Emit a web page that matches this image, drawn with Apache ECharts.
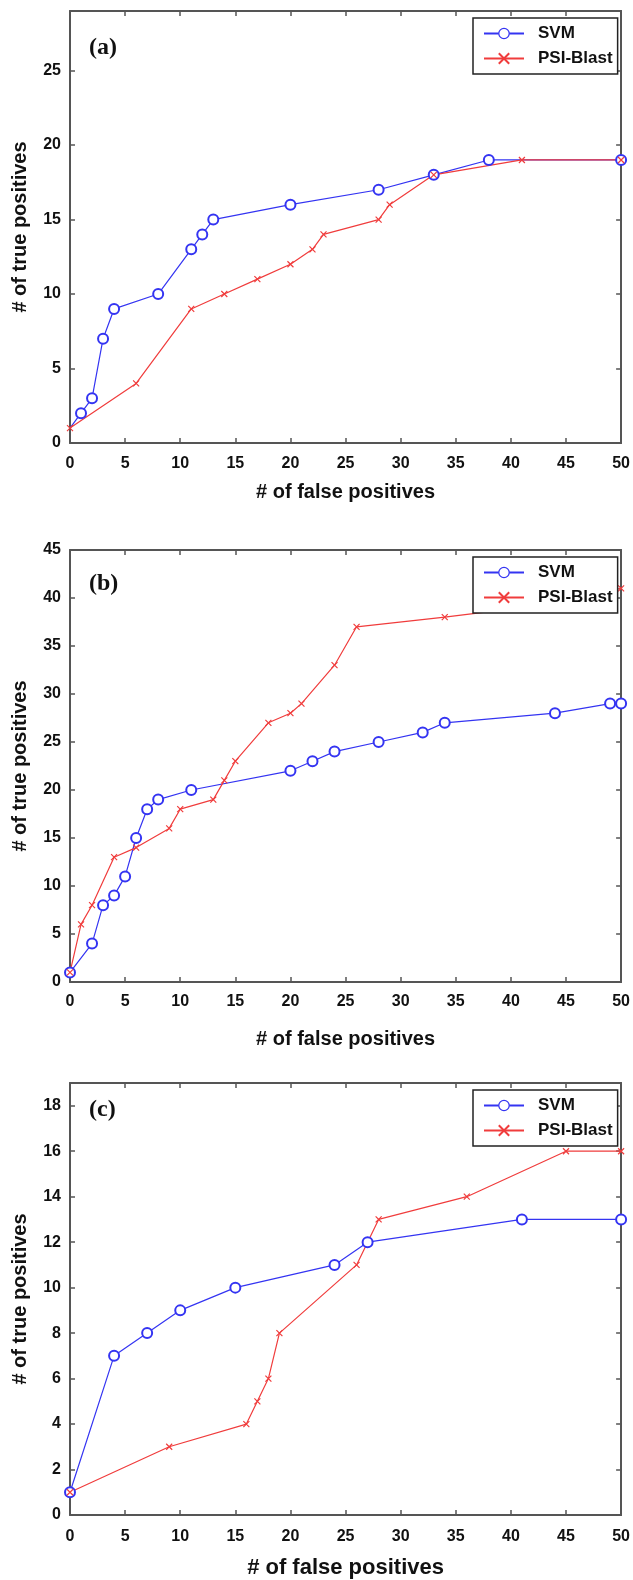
<!DOCTYPE html>
<html>
<head>
<meta charset="utf-8">
<script src="https://cdn.jsdelivr.net/npm/echarts@6/dist/echarts.min.js"></script>
<style>
  html, body { margin: 0; padding: 0; background: #fff; }
  #chart { width: 633px; height: 1580px; }
</style>
</head>
<body>
<div id="chart"></div>
<script>
// panel labels and legend names
const panels = ['(a)', '(b)', '(c)'];
const seriesNames = ['SVM', 'PSI-Blast'];

// y ranges per panel: [max, tick step]
const yMax = [29, 45, 19];
const yStep = [5, 5, 2];

// (a) points as [false positives, true positives]
const svmA = [[0,1],[1,2],[2,3],[3,7],[4,9],[8,10],[11,13],[12,14],[13,15],[20,16],[28,17],[33,18],[38,19],[50,19]];
const psiA = [[0,1],[6,4],[11,9],[14,10],[17,11],[20,12],[22,13],[23,14],[28,15],[29,16],[33,18],[41,19],[50,19]];

// (b)
const svmB = [[0,1],[2,4],[3,8],[4,9],[5,11],[6,15],[7,18],[8,19],[11,20],[20,22],[22,23],[24,24],[28,25],[32,26],[34,27],[44,28],[49,29],[50,29]];
const psiB = [[0,1],[1,6],[2,8],[4,13],[6,14],[9,16],[10,18],[13,19],[14,21],[15,23],[18,27],[20,28],[21,29],[24,33],[26,37],[34,38],[41,39],[50,41]];

// (c)
const svmC = [[0,1],[4,7],[7,8],[10,9],[15,10],[24,11],[27,12],[41,13],[50,13]];
const psiC = [[0,1],[9,3],[16,4],[17,5],[18,6],[19,8],[26,11],[28,13],[36,14],[45,16],[50,16]];

const svmData = [svmA, svmB, svmC];
const psiData = [psiA, psiB, psiC];

(function(){
  const chart = echarts.init(document.getElementById('chart'));

  const blue = '#3434f2';
  const red = '#f03c3c';
  const frame = '#555';
  const sans = '"Liberation Sans", Arial, sans-serif';
  const tops = [11, 550, 1083];
  const plotH = 432;
  const xNameGap = [39, 47, 42];
  const xLabelMargin = [13, 12, 14];
  const labelTop = [25, 22, 15];
  const crossIcon = 'path://M0,0L10,10M10,0L0,10';

  const grids = [], xAxes = [], yAxes = [], series = [], legends = [], graphics = [];

  const axisLine = { show: true, onZero: false, lineStyle: { color: frame, width: 2 } };
  const tick = { show: true, inside: true, length: 5, lineStyle: { color: frame, width: 1.5 } };
  const boldText = size => ({ color: '#111', fontFamily: sans, fontWeight: 'bold', fontSize: size });

  panels.forEach((label, i) => {
    grids.push({ left: 70, top: tops[i], width: 553, height: plotH });

    xAxes.push({
      gridIndex: i, type: 'value', min: 0, max: 50, interval: 5, position: 'bottom',
      name: '# of false positives', nameLocation: 'middle', nameGap: xNameGap[i],
      nameTextStyle: boldText(i === 2 ? 22 : 20),
      axisLine, axisTick: tick, splitLine: { show: false },
      axisLabel: Object.assign(boldText(16), { margin: xLabelMargin[i] })
    });
    xAxes.push({
      gridIndex: i, type: 'value', min: 0, max: 50, interval: 5, position: 'top',
      axisLine, axisTick: tick, splitLine: { show: false }, axisLabel: { show: false }
    });

    yAxes.push({
      gridIndex: i, type: 'value', min: 0, max: yMax[i], interval: yStep[i], position: 'left',
      name: '# of true positives', nameLocation: 'middle', nameGap: 40,
      nameTextStyle: boldText(20),
      axisLine, axisTick: tick, splitLine: { show: false },
      axisLabel: Object.assign(boldText(16), { margin: 9, showMaxLabel: yMax[i] % yStep[i] === 0 })
    });
    yAxes.push({
      gridIndex: i, type: 'value', min: 0, max: yMax[i], interval: yStep[i], position: 'right',
      axisLine, axisTick: tick, splitLine: { show: false }, axisLabel: { show: false }
    });

    series.push({
      name: seriesNames[0], type: 'line', xAxisIndex: i * 2, yAxisIndex: i * 2,
      data: svmData[i],
      symbol: i === 0 ? (v => v[0] === 0 ? 'none' : 'emptyCircle') : 'emptyCircle',
      symbolSize: 10,
      lineStyle: { color: blue, width: 1.2 },
      itemStyle: { color: blue, borderColor: blue, borderWidth: 1.2 },
      clip: false, animation: false
    });
    series.push({
      name: seriesNames[1], type: 'line', xAxisIndex: i * 2, yAxisIndex: i * 2,
      data: psiData[i],
      symbol: crossIcon, symbolSize: 6,
      lineStyle: { color: red, width: 1.2 },
      itemStyle: { color: red, borderColor: red, borderWidth: 1.2 },
      clip: false, animation: false
    });

    legends.push({
      data: [
        { name: seriesNames[0], itemStyle: { color: '#fff', borderColor: blue, borderWidth: 1.2 } },
        seriesNames[1]
      ],
      orient: 'vertical', left: 473, top: tops[i] + 7,
      itemWidth: 40, itemHeight: 13, itemGap: 8,
      padding: [7, 5, 7, 10],
      backgroundColor: '#fff', borderColor: '#222', borderWidth: 1.5, borderRadius: 0,
      textStyle: Object.assign(boldText(17), { padding: [0, 0, 0, 9] }),
      selectedMode: false
    });

    graphics.push({
      type: 'text', left: 89, top: tops[i] + labelTop[i],
      style: { text: label, font: 'bold 24px "Liberation Serif", serif', fill: '#111' }
    });
  });

  chart.setOption({
    backgroundColor: '#fff',
    animation: false,
    grid: grids,
    xAxis: xAxes,
    yAxis: yAxes,
    legend: legends,
    series,
    graphic: graphics
  });
})();
</script>
</body>
</html>
